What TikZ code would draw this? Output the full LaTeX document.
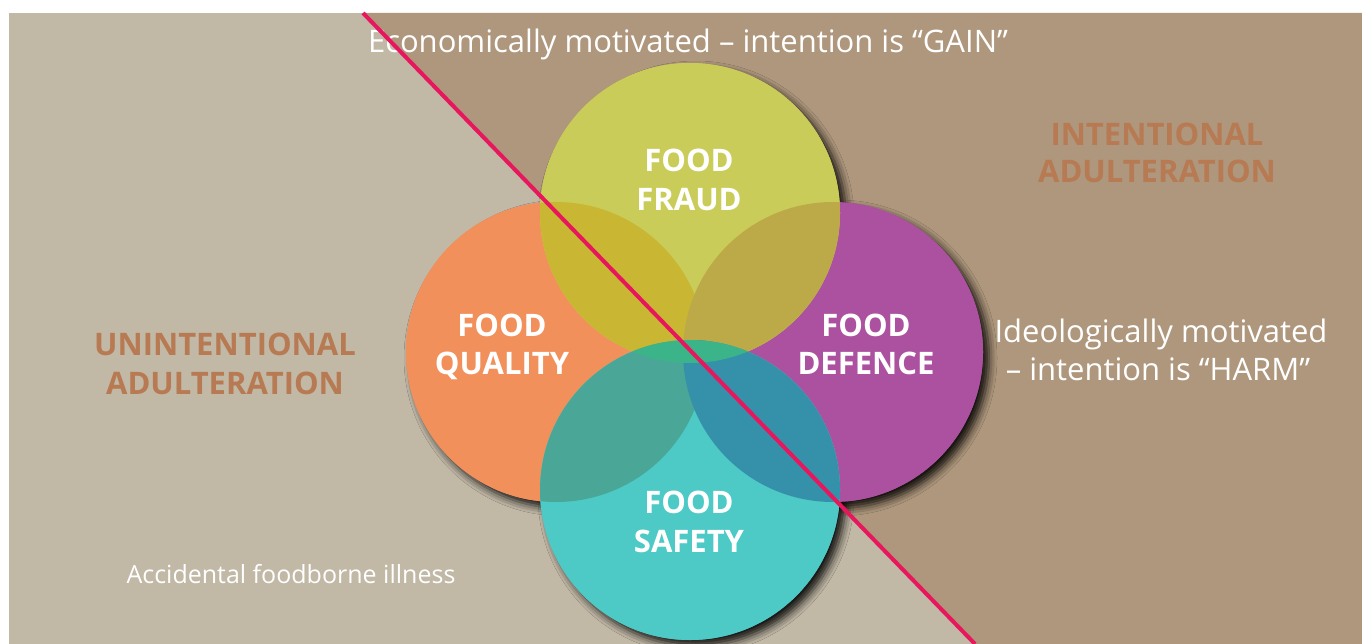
\documentclass[tikz,border=0pt]{standalone}
\usepackage{fontspec}
\setmainfont{Open Sans}
\usetikzlibrary{shadows.blur}
\definecolor{bgbeige}{HTML}{C1B8A6}
\definecolor{bgbrown}{HTML}{AE977C}
\definecolor{cfraud}{HTML}{CACC5A}
\definecolor{cqual}{HTML}{F2905B}
\definecolor{cdef}{HTML}{AC51A0}
\definecolor{csafe}{HTML}{4DC9C6}
\definecolor{cfq}{HTML}{C9B734}
\definecolor{cfd}{HTML}{BCA947}
\definecolor{csq}{HTML}{4AA797}
\definecolor{csd}{HTML}{3591AA}
\definecolor{cfs}{HTML}{3CB48A}
\definecolor{cline}{HTML}{E8175D}
\definecolor{chead}{HTML}{B77A52}
\tikzset{
  circshadow/.style={blur shadow={shadow xshift=6pt, shadow yshift=-6pt, shadow blur radius=8pt, shadow opacity=90}},
  lbl/.style={text=white, font=\fontsize{31}{38}\selectfont\bfseries, anchor=base, inner sep=0pt},
  head/.style={text=chead, font=\fontsize{31}{38}\selectfont\bfseries, anchor=base, inner sep=0pt},
  note/.style={text=white, font=\fontsize{31}{38}\selectfont, anchor=base, inner sep=0pt},
  smallnote/.style={text=white, font=\fontsize{25}{32}\selectfont, anchor=base, inner sep=0pt},
}
\begin{document}
\begin{tikzpicture}[x=1pt,y=-1pt]
\useasboundingbox (0,0) rectangle (1362,644);
\fill[white] (0,0) rectangle (1362,644);
\fill[bgbeige] (9,13) rectangle (1362,644);
\coordinate (L1) at (363,13);
\coordinate (L2) at (975,644);
\fill[bgbrown] (L1) -- (1362,13) -- (1362,644) -- (L2) -- cycle;

\coordinate (F) at (690,213);
\coordinate (Q) at (556,352);
\coordinate (D) at (833,352);
\coordinate (S) at (690,490);

% shadows
\fill[cqual, circshadow] (Q) circle (150pt);
\fill[cdef, circshadow] (D) circle (150pt);
\fill[cfraud, circshadow] (F) circle (150pt);
\fill[csafe, circshadow] (S) circle (150pt);
% circles
\fill[cqual] (Q) circle (150pt);
\fill[cdef] (D) circle (150pt);
\fill[cfraud] (F) circle (150pt);
\fill[csafe] (S) circle (150pt);
% overlaps
\begin{scope}\clip (F) circle (150pt); \fill[cfq] (Q) circle (150pt); \fill[cfd] (D) circle (150pt); \end{scope}
\begin{scope}\clip (S) circle (150pt); \fill[csq] (Q) circle (150pt); \fill[csd] (D) circle (150pt); \end{scope}
\begin{scope}\clip (S) circle (150pt); \fill[cfs] (F) circle (150pt); \end{scope}

% texts
\node[note] (econ) at (688,53) {Economically motivated – intention is “GAIN”};
\node[lbl] (ff1) at (689,172) {FOOD};
\node[lbl] (ff2) at (689,211) {FRAUD};
\node[lbl] (fq1) at (502,336) {FOOD};
\node[lbl] (fq2) at (502,374) {QUALITY};
\node[lbl] (fd1) at (866,336) {FOOD};
\node[lbl] (fd2) at (866,374) {DEFENCE};
\node[lbl] (fs1) at (689,513) {FOOD};
\node[lbl] (fs2) at (689,552) {SAFETY};
\node[head] (un1) at (225,355) {UNINTENTIONAL};
\node[head] (un2) at (225,394) {ADULTERATION};
\node[head] (in1) at (1157,146) {INTENTIONAL};
\node[head] (in2) at (1157,183) {ADULTERATION};
\node[note] (id1) at (1161,342) {Ideologically motivated};
\node[note] (id2) at (1158,380) {– intention is “HARM”};
\node[smallnote] (acc) at (291,583) {Accidental foodborne illness};

\draw[cline, line width=4pt] (L1) -- (L2);
\end{tikzpicture}
\end{document}
